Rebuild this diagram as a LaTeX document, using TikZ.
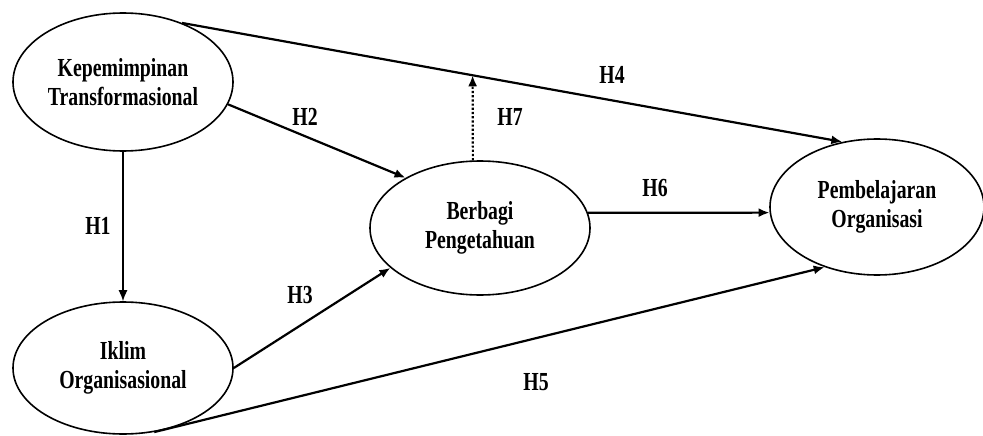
\documentclass[tikz,border=0pt]{standalone}
\usepackage{fontspec}
\setmainfont{Liberation Serif}
\newfontfamily\diagfont[FakeStretch=0.76]{Liberation Serif}
\usepackage{tikz}
\usetikzlibrary{shapes,arrows.meta,positioning,calc}

\begin{document}
\begin{tikzpicture}[x=1pt, y=-1pt,
  var/.style={draw, ellipse, line width=1.6pt, inner sep=0pt, align=center, font=\diagfont\bfseries\fontsize{26}{29}\selectfont},
  hyp/.style={font=\diagfont\bfseries\fontsize{26}{29}\selectfont},
  path/.style={line width=2.2pt, -{Latex[length=11pt,width=9pt]}}]
\useasboundingbox (0,0) rectangle (983,436);
% variables
\node[var, minimum width=220pt, minimum height=138pt] (kt) at (123,82) {Kepemimpinan\\Transformasional};
\node[var, minimum width=220pt, minimum height=132pt] (io) at (123,368) {Iklim\\Organisasional};
\node[var, minimum width=220pt, minimum height=134pt] (bp) at (480,228) {Berbagi\\Pengetahuan};
\node[var, minimum width=214pt, minimum height=136pt] (pl) at (877,207) {Pembelajaran\\Organisasi};
% paths
\draw[path, line width=1.4pt] (kt.south) -- (io.north);
\draw[path] (kt.-12) -- (bp.146);
\draw[path] (io.east) -- (bp.204);
\draw[path] (kt.45) -- (pl.118);
\draw[path] (io.-64) -- (pl.229);
\draw[path] (bp.8) -- (pl.183);
\coordinate (h7top) at ($(kt.45)!0.44!(pl.118)$);
\draw[path, dotted] (bp.96) -- (h7top);
% labels
\node[hyp] (h1) at (98,226) {H1};
\node[hyp] (h2) at (305,117) {H2};
\node[hyp] (h3) at (300,295) {H3};
\node[hyp] (h4) at (612,75) {H4};
\node[hyp] (h5) at (536,382) {H5};
\node[hyp] (h6) at (655,188) {H6};
\node[hyp] (h7) at (510,117) {H7};
\end{tikzpicture}
\end{document}
